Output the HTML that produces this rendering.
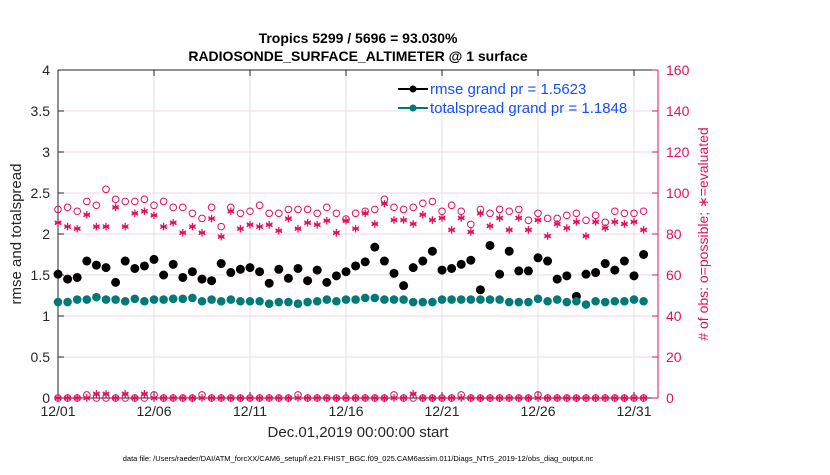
<!DOCTYPE html>
<html><head><meta charset="utf-8"><style>
body{margin:0;background:#fff;font-family:"Liberation Sans",sans-serif}
</style></head><body>
<svg id="c" width="830" height="470" xmlns="http://www.w3.org/2000/svg" font-family="Liberation Sans, sans-serif"></svg>
<script>
const xTickLabels=["12/01","12/06","12/11","12/16","12/21","12/26","12/31"];
const xTickDays=[0,5,10,15,20,25,30];
const leftTicks=[0,0.5,1,1.5,2,2.5,3,3.5,4];
const rightTicks=[0,20,40,60,80,100,120,140,160];
const rmse=[1.51,1.45,1.47,1.67,1.62,1.59,1.41,1.67,1.58,1.61,1.69,1.50,1.63,1.47,1.54,1.45,1.43,1.64,1.53,1.57,1.59,1.54,1.40,1.57,1.46,1.58,1.43,1.56,1.41,1.49,1.54,1.61,
1.66,1.84,1.67,1.52,1.37,1.59,1.67,1.79,1.56,1.58,1.63,1.68,1.32,1.86,1.51,1.79,1.55,1.55,1.71,1.67,1.45,1.49,1.24,1.51,1.53,1.64,1.56,1.67,1.49,1.75];
const spread=[1.17,1.17,1.20,1.20,1.23,1.20,1.20,1.18,1.21,1.18,1.20,1.20,1.21,1.21,1.22,1.18,1.20,1.18,1.20,1.18,1.18,1.18,1.15,1.17,1.17,1.15,1.17,1.18,1.20,1.18,1.20,1.20,
1.22,1.22,1.20,1.20,1.20,1.17,1.17,1.17,1.20,1.20,1.20,1.20,1.20,1.20,1.20,1.17,1.17,1.17,1.21,1.18,1.20,1.17,1.18,1.14,1.18,1.17,1.18,1.18,1.20,1.18];
const possible=[92.0,93.0,91.1,95.9,94.0,101.8,96.9,95.9,95.9,96.9,94.0,95.9,93.0,93.0,90.1,87.6,93.0,83.6,93.0,90.1,91.1,94.0,90.1,90.1,92.0,92.0,92.0,90.1,93.0,90.1,87.3,90.1,
91.1,92.0,96.9,93.0,92.0,93.0,95.0,95.9,91.1,94.0,91.1,84.7,92.0,90.1,92.0,91.1,92.0,86.7,90.1,87.6,87.6,89.1,90.1,86.7,89.1,85.7,91.1,90.1,90.1,91.1];
const evaluated=[85.5,83.6,82.6,89.4,83.6,83.6,93.0,83.6,90.1,91.1,89.1,83.6,85.5,80.6,83.6,80.6,87.5,78.7,91.1,82.6,84.5,83.6,84.5,81.6,87.5,82.6,85.5,84.5,86.5,80.6,86.5,82.6,
90.1,84.9,94.8,86.8,86.8,84.9,89.4,86.8,87.8,82.0,87.8,81.0,90.1,83.9,87.8,82.0,87.8,82.0,86.8,79.0,84.9,82.9,85.9,79.0,85.9,82.9,85.9,84.9,85.9,82.0];
const possibleLow=[0,0,0,1.5,0,0,0,0,0,0,1.5,0,0,0,0,1.5,0,0,0,0,0,0,0,0,0,1.5,0,0,0,0,0,0,0,0,0,1.5,0,0,0,0,0,0,1.5,0,0,0,0,0,0,0,1.5,0,0,0,0,0,0,0,0,0,0,0];
const evaluatedLow=[0,0,0,0,2,2,0,2,0,2,0,0,0,0,0,0,0,0,0,0,0,0,0,0,0,0,0,0,0,0,0,0,0,0,0,0,0,2,0,0,0,0,0,0,0,0,0,0,0,0,0,0,0,0,0,0,0,0,0,0,0,0];

const svg=document.getElementById('c');const NS="http://www.w3.org/2000/svg";
const X0=58,X1=658,Y0=398,Y1=70,DAYPX=19.2;
const xs=d=>X0+d*DAYPX;
const yl=v=>Y0-(v/4)*(Y0-Y1);
const yr=v=>Y0-(v/160)*(Y0-Y1);
const PINK="#e0115f";
function el(t,a,p){const e=document.createElementNS(NS,t);for(const k in a)e.setAttribute(k,a[k]);(p||svg).appendChild(e);return e;}
xTickDays.forEach((d,i)=>{const l=el('line',{x1:xs(d),x2:xs(d),y1:Y1,y2:Y0,stroke:'#e2e2e2'});

});
leftTicks.forEach(v=>{const l=el('line',{x1:X0,x2:X1,y1:yl(v),y2:yl(v),stroke:'#f2d6e0'});

});
let a=el('line',{x1:X0,x2:X0,y1:Y1,y2:Y0,stroke:'#262626'});


a=el('line',{x1:X0,x2:X1,y1:Y0,y2:Y0,stroke:'#262626'});


a=el('line',{x1:X0,x2:X1,y1:Y1,y2:Y1,stroke:'#262626'});


a=el('line',{x1:X1,x2:X1,y1:Y1,y2:Y0,stroke:PINK});


xTickDays.forEach((d,i)=>{el('line',{x1:xs(d),x2:xs(d),y1:Y0,y2:Y0-6,stroke:'#262626'});el('line',{x1:xs(d),x2:xs(d),y1:Y1,y2:Y1+6,stroke:'#262626'});
const t=el('text',{x:xs(d),y:Y0+18,'text-anchor':'middle','font-size':14,fill:'#262626'});t.textContent=xTickLabels[i];

});
leftTicks.forEach(v=>{el('line',{x1:X0,x2:X0+6,y1:yl(v),y2:yl(v),stroke:'#262626'});
const t=el('text',{x:X0-8,y:yl(v)+5,'text-anchor':'end','font-size':14,fill:'#262626'});t.textContent=String(v);

});
rightTicks.forEach(v=>{el('line',{x1:X1-6,x2:X1,y1:yr(v),y2:yr(v),stroke:PINK});
const t=el('text',{x:X1+8,y:yr(v)+5,'font-size':14,fill:PINK});t.textContent=String(v);

});
function star(cx,cy,g){const r=3.8;for(let k=0;k<3;k++){const an=Math.PI/2+k*Math.PI/3;el('line',{x1:cx-r*Math.cos(an),y1:cy-r*Math.sin(an),x2:cx+r*Math.cos(an),y2:cy+r*Math.sin(an),stroke:PINK,'stroke-width':1.3},g);}el('line',{x1:cx-3,x2:cx+3,y1:cy,y2:cy,stroke:PINK,'stroke-width':1.3},g);}
const gP=el('g',{});
const gE=el('g',{});
const gR=el('g',{});
const gS=el('g',{});
possible.forEach((v,i)=>{const c=el('circle',{cx:xs(i*0.5),cy:yr(v),r:3.3,fill:'none',stroke:PINK,'stroke-width':1},gP);

});
possibleLow.forEach((v,i)=>{const c=el('circle',{cx:xs(i*0.5),cy:yr(v),r:3.3,fill:'none',stroke:PINK,'stroke-width':1},gP);

});
evaluated.forEach((v,i)=>star(xs(i*0.5),yr(v),gE));
evaluatedLow.forEach((v,i)=>star(xs(i*0.5),yr(v),gE));
rmse.forEach((v,i)=>{const c=el('circle',{cx:xs(i*0.5),cy:yl(v),r:4.5,fill:'#000'},gR);

});
spread.forEach((v,i)=>{const c=el('circle',{cx:xs(i*0.5),cy:yl(v),r:4.3,fill:'#007a78'},gS);

});
const lg=el('g',{});
[['#000','rmse grand pr = 1.5623',89],['#007a78','totalspread grand pr = 1.1848',108]].forEach(([c,s,y])=>{
el('line',{x1:398,x2:428,y1:y,y2:y,stroke:c,'stroke-width':2},lg);el('circle',{cx:413,cy:y,r:3.5,fill:c},lg);
const t=el('text',{x:430,y:y+5,'font-size':15,fill:'#1452f0'},lg);t.textContent=s;

});
function txt(s,at,name){const t=el('text',at);t.textContent=s;return t;}
txt('Tropics 5299 / 5696 = 93.030%',{x:358,y:43,'text-anchor':'middle','font-size':14,'font-weight':'bold',fill:'#000'},'chart-title');
txt('RADIOSONDE_SURFACE_ALTIMETER @ 1 surface',{x:358,y:61,'text-anchor':'middle','font-size':14,'font-weight':'bold',fill:'#000'},'chart-subtitle');
txt('rmse and totalspread',{x:0,y:0,transform:'translate(21,234) rotate(-90)','text-anchor':'middle','font-size':15,fill:'#262626'},'left-axis-title');
txt('# of obs: o=possible; \u2217=evaluated',{x:0,y:0,transform:'translate(708,234) rotate(-90)','text-anchor':'middle','font-size':14,fill:PINK},'right-axis-title');
txt('Dec.01,2019 00:00:00 start',{x:358,y:437,'text-anchor':'middle','font-size':15,fill:'#262626'},'x-axis-title');
txt('data file: /Users/raeder/DAI/ATM_forcXX/CAM6_setup/f.e21.FHIST_BGC.f09_025.CAM6assim.011/Diags_NTrS_2019-12/obs_diag_output.nc',{x:358,y:461,'text-anchor':'middle','font-size':7.5,fill:'#000'},'data-file-note');
</script>
</body></html>
